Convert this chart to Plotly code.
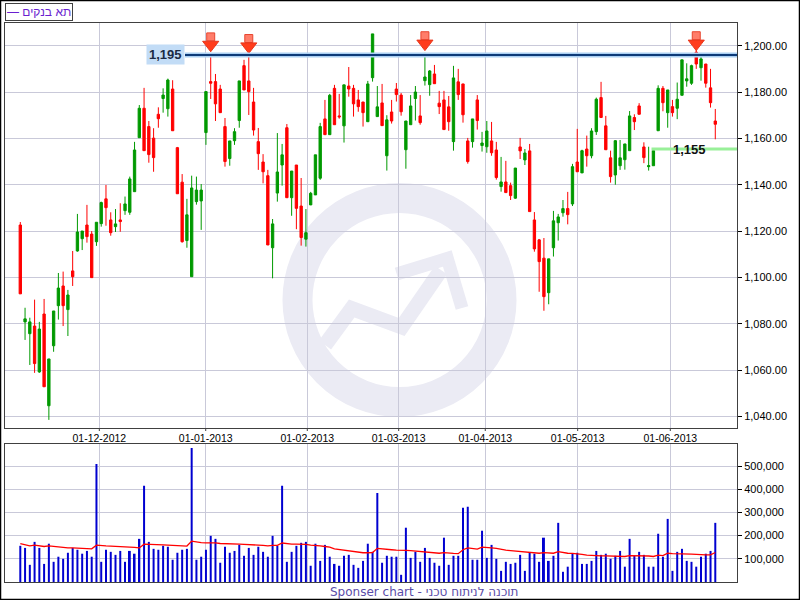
import plotly.graph_objects as go

# ---------------- data ----------------
opens = [1122.7, 1080.9, 1075.8, 1079.1, 1059.3, 1084.3, 1044.7, 1070.6, 1087.9, 1096.4,
         1086.2, 1102.9, 1111.5, 1116.8, 1122.7, 1118.8, 1115.5, 1123.3, 1134.0, 1124.9,
         1122.0, 1124.9, 1128.9, 1128.2, 1137.1, 1160.4, 1173.1, 1165.2, 1160.2, 1170.5,
         1177.3, 1172.9, 1181.4, 1156.1, 1141.2, 1116.0, 1100.4, 1132.8, 1133.1, 1162.6,
         1184.6, 1184.6, 1181.4, 1165.2, 1151.4, 1159.1, 1167.8, 1191.5, 1184.9, 1175.8,
         1158.7, 1149.9, 1144.0, 1112.9, 1136.5, 1148.6, 1164.7, 1134.5, 1148.6, 1130.9,
         1116.6, 1131.4, 1135.7, 1142.9, 1168.5, 1161.7, 1181.7, 1169.8, 1165.5, 1182.7,
         1181.7, 1176.7, 1175.8, 1167.3, 1186.3, 1169.5, 1175.4, 1152.6, 1171.5, 1181.4,
         1178.8, 1155.2, 1166.0, 1177.3, 1169.8, 1185.0, 1183.3, 1187.9, 1175.3, 1176.7,
         1173.7, 1158.7, 1184.5, 1183.6, 1159.0, 1158.7, 1176.7, 1157.0, 1156.5, 1159.0,
         1155.1, 1139.3, 1141.3, 1139.7, 1134.3, 1156.4, 1150.8, 1154.7, 1124.9, 1116.3,
         1108.4, 1093.5, 1112.9, 1123.7, 1128.0, 1129.8, 1131.8, 1149.9, 1145.2, 1155.5,
         1152.6, 1163.0, 1177.7, 1165.5, 1151.7, 1144.3, 1148.3, 1150.9, 1154.8, 1169.1,
         1174.1, 1156.4, 1147.9, 1148.3, 1163.4, 1181.7, 1171.2, 1173.8, 1173.1, 1178.7,
         1184.9, 1183.9, 1197.3, 1190.6, 1192.2, 1181.9, 1167.6]
highs = [1124.0, 1087.0, 1082.7, 1090.5, 1080.9, 1090.8, 1064.9, 1085.6, 1102.0, 1102.6,
         1094.7, 1111.5, 1127.5, 1120.1, 1131.4, 1120.1, 1123.9, 1132.8, 1140.0, 1128.2,
         1129.6, 1132.1, 1135.0, 1143.6, 1158.6, 1174.5, 1181.9, 1167.6, 1164.5, 1173.5,
         1181.7, 1185.9, 1185.2, 1156.4, 1144.7, 1134.0, 1144.0, 1143.6, 1140.4, 1180.3,
         1195.4, 1187.9, 1183.2, 1168.9, 1159.0, 1164.5, 1184.9, 1194.0, 1195.8, 1181.9,
         1164.6, 1153.3, 1146.5, 1125.3, 1162.4, 1157.7, 1166.3, 1146.0, 1148.6, 1143.0,
         1129.6, 1137.0, 1153.0, 1166.8, 1176.7, 1179.3, 1183.2, 1179.3, 1183.2, 1190.9,
         1183.2, 1181.0, 1175.8, 1184.9, 1205.2, 1182.7, 1183.6, 1170.1, 1176.7, 1184.0,
         1179.7, 1167.6, 1178.8, 1182.7, 1178.8, 1197.0, 1189.6, 1191.8, 1180.6, 1180.6,
         1178.4, 1191.4, 1190.1, 1183.6, 1160.3, 1168.5, 1178.8, 1162.9, 1167.6, 1167.2,
         1158.6, 1152.1, 1150.4, 1141.0, 1147.3, 1160.3, 1155.5, 1157.7, 1128.3, 1116.7,
         1117.1, 1108.1, 1128.8, 1127.5, 1133.5, 1137.0, 1149.1, 1164.2, 1155.2, 1161.3,
         1164.5, 1177.7, 1184.5, 1169.8, 1154.8, 1159.4, 1159.4, 1157.7, 1171.9, 1170.5,
         1175.3, 1158.4, 1156.5, 1154.8, 1183.0, 1182.7, 1181.0, 1176.7, 1184.2, 1194.0,
         1192.5, 1191.9, 1198.4, 1195.8, 1192.2, 1190.1, 1172.8]
lows = [1093.0, 1073.1, 1062.3, 1058.9, 1058.9, 1052.9, 1038.6, 1068.0, 1081.9, 1079.1,
        1074.8, 1096.4, 1111.2, 1111.9, 1115.1, 1100.0, 1113.7, 1122.0, 1122.4, 1118.1,
        1119.7, 1119.8, 1127.1, 1127.1, 1137.1, 1160.4, 1154.8, 1149.6, 1145.7, 1164.7,
        1171.2, 1169.5, 1163.4, 1136.2, 1115.1, 1112.9, 1100.4, 1131.5, 1120.6, 1157.3,
        1177.1, 1167.6, 1171.2, 1147.9, 1148.3, 1157.3, 1164.7, 1181.0, 1170.2, 1161.3,
        1146.5, 1140.7, 1114.1, 1099.7, 1132.8, 1139.7, 1134.5, 1126.7, 1120.9, 1113.8,
        1113.4, 1131.3, 1135.7, 1142.2, 1161.7, 1161.7, 1166.0, 1168.6, 1158.3, 1178.1,
        1169.5, 1171.6, 1165.2, 1167.3, 1184.6, 1169.5, 1165.6, 1146.2, 1166.5, 1176.0,
        1169.9, 1147.0, 1166.0, 1167.8, 1166.0, 1182.9, 1178.5, 1183.7, 1170.6, 1163.9,
        1163.4, 1154.8, 1176.7, 1166.9, 1149.2, 1156.1, 1163.9, 1154.4, 1153.9, 1152.6,
        1142.3, 1137.1, 1136.7, 1133.5, 1134.0, 1151.2, 1148.6, 1128.5, 1111.2, 1093.9,
        1085.7, 1088.5, 1109.1, 1116.0, 1126.3, 1123.0, 1130.9, 1145.7, 1145.2, 1147.9,
        1151.5, 1161.6, 1169.1, 1155.2, 1141.0, 1140.1, 1146.5, 1146.6, 1154.8, 1163.7,
        1170.5, 1149.4, 1146.2, 1148.3, 1163.4, 1171.8, 1164.7, 1169.5, 1168.4, 1178.7,
        1182.4, 1183.2, 1190.1, 1185.0, 1182.0, 1173.4, 1159.7]
closes = [1093.0, 1082.2, 1080.9, 1062.9, 1077.8, 1052.9, 1064.9, 1085.6, 1095.5, 1087.9,
          1092.5, 1100.4, 1119.7, 1120.1, 1117.7, 1100.0, 1123.9, 1132.4, 1130.2, 1119.4,
          1123.2, 1124.2, 1131.8, 1142.6, 1155.1, 1173.1, 1154.8, 1153.1, 1151.8, 1168.6,
          1178.8, 1185.3, 1163.4, 1136.2, 1115.5, 1127.1, 1138.7, 1137.8, 1137.8, 1180.3,
          1183.9, 1175.0, 1171.2, 1150.1, 1159.0, 1163.0, 1184.9, 1181.0, 1180.3, 1163.7,
          1153.5, 1145.7, 1114.1, 1123.2, 1145.6, 1153.0, 1134.5, 1146.0, 1129.9, 1117.3,
          1119.4, 1136.4, 1153.0, 1165.2, 1161.7, 1178.7, 1166.0, 1169.4, 1183.2, 1181.4,
          1175.0, 1173.8, 1171.2, 1183.6, 1205.2, 1173.7, 1165.6, 1168.1, 1167.6, 1179.0,
          1171.6, 1167.6, 1174.1, 1180.1, 1166.9, 1186.6, 1189.2, 1183.7, 1173.8, 1163.9,
          1167.3, 1186.2, 1179.0, 1170.3, 1150.1, 1168.5, 1167.8, 1158.1, 1163.3, 1153.9,
          1143.2, 1141.3, 1136.7, 1135.4, 1147.3, 1154.7, 1153.8, 1128.5, 1112.4, 1106.9,
          1091.8, 1108.1, 1124.5, 1126.2, 1129.8, 1127.2, 1147.9, 1145.7, 1154.8, 1152.6,
          1163.3, 1177.0, 1169.1, 1155.2, 1143.6, 1159.1, 1151.7, 1157.7, 1169.8, 1167.3,
          1170.5, 1151.8, 1148.3, 1154.8, 1181.7, 1175.5, 1181.0, 1171.2, 1177.0, 1194.0,
          1185.8, 1191.5, 1192.2, 1194.4, 1183.9, 1175.5, 1166.2]

# volume in thousands, and its average line (red)
volumes_k = [156, 147, 74, 173, 147, 78, 165, 87, 109, 100, 126, 147, 139, 122, 134, 109, 509, 87, 139, 130,
             117, 134, 87, 134, 122, 186, 415, 173, 143, 139, 156, 152, 96, 126, 139, 143, 578, 96, 109, 139,
             199, 186, 83, 152, 126, 134, 160, 113, 147, 117, 152, 130, 109, 199, 156, 415, 87, 130, 156, 169,
             173, 70, 165, 91, 160, 109, 78, 70, 113, 117, 74, 61, 91, 165, 130, 384, 83, 113, 109, 109,
             31, 234, 104, 130, 87, 147, 104, 83, 70, 191, 74, 113, 113, 320, 324, 96, 96, 221, 104, 160,
             100, 48, 87, 78, 83, 117, 48, 126, 122, 87, 191, 91, 113, 255, 44, 66, 122, 126, 78, 78,
             91, 134, 117, 122, 100, 113, 134, 66, 186, 113, 130, 117, 66, 66, 208, 109, 272, 48, 130, 143,
             91, 87, 66, 109, 122, 134, 255]
vol_avg_k = [165, 160, 156, 159, 155, 153, 156, 153, 150, 149, 147, 147, 146, 145, 145, 143, 159, 156, 156, 155,
             153, 153, 152, 150, 149, 147, 163, 163, 162, 160, 160, 159, 158, 156, 156, 155, 176, 172, 170, 169,
             170, 169, 166, 166, 165, 163, 163, 162, 162, 160, 159, 158, 156, 158, 158, 168, 165, 163, 163, 163,
             162, 159, 159, 156, 153, 150, 143, 140, 137, 134, 132, 129, 126, 126, 127, 145, 142, 140, 139, 137,
             135, 136, 135, 133, 132, 130, 129, 127, 124, 127, 124, 123, 122, 139, 147, 145, 142, 150, 147, 147,
             145, 140, 137, 135, 133, 132, 129, 127, 126, 124, 127, 126, 124, 131, 127, 124, 123, 122, 119, 116,
             114, 114, 113, 113, 112, 112, 112, 110, 114, 114, 114, 113, 112, 110, 116, 114, 124, 122, 122, 123,
             122, 120, 119, 117, 117, 117, 127]

month_labels = ["01-12-2012", "01-01-2013", "01-02-2013", "01-03-2013",
                "01-04-2013", "01-05-2013", "01-06-2013"]
month_pos = [16.6, 38.95, 60.29, 79.49, 97.68, 117.09, 136.55]

signal_idx = [40, 48, 85, 142]
signal_tip = [1197.5, 1196.8, 1198.0, 1198.0]

resistance_level = 1196.1
resistance_label = "1,195"
resistance_start = 34.6
support_level = 1155.5
support_label = "1,155"
support_start = 132.6
support_label_x = 140.5

legend_text = "— תא בנקים"
footer_text = "Sponser chart - תוכנה לניתוח טכני"

# ---------------- geometry / helpers ----------------
W, H = 800, 600
ML, MR, MT, MB = 5, 63, 23, 18
PW, PH = W - ML - MR, H - MT - MB
X_RANGE = [-3.214, 150.56]


def px(xp):
    return (xp - ML) / PW


def py(yp):
    return (H - MB - yp) / PH


idx = list(range(len(opens)))
volumes = [v * 1000 for v in volumes_k]
vol_avg = [v * 1000 for v in vol_avg_k]
head_y = [t + 3.0 for t in signal_tip]
stem_y = [t + 6.4 for t in signal_tip]

FONT = "Liberation Sans, Arial, sans-serif"
GRID = "#c9c9d9"
FRAME = "#404040"
WM = "#ebebf4"

fig = go.Figure()

fig.add_trace(go.Candlestick(
    x=idx, open=opens, high=highs, low=lows, close=closes,
    increasing=dict(line=dict(color="#009900", width=1), fillcolor="#009900"),
    decreasing=dict(line=dict(color="#ff0000", width=1), fillcolor="#ff0000"),
    whiskerwidth=0, showlegend=False, hoverinfo="skip",
    xaxis="x", yaxis="y"))

fig.add_trace(go.Scatter(
    x=signal_idx, y=stem_y, mode="markers", showlegend=False, hoverinfo="skip",
    marker=dict(symbol="square", size=8, color="#ff7d6a",
                line=dict(color="#e8452f", width=1)),
    xaxis="x", yaxis="y"))
fig.add_trace(go.Scatter(
    x=signal_idx, y=head_y, mode="markers", showlegend=False, hoverinfo="skip",
    marker=dict(symbol="triangle-down", size=14, color="#ff3c1c",
                line=dict(color="#e8351a", width=1)),
    xaxis="x", yaxis="y"))

fig.add_trace(go.Bar(
    x=idx, y=volumes, width=0.42, marker=dict(color="#0000d0", line=dict(width=0)),
    showlegend=False, hoverinfo="skip", xaxis="x2", yaxis="y2"))
fig.add_trace(go.Scatter(
    x=idx, y=vol_avg, mode="lines", line=dict(color="#ff0000", width=1.3),
    showlegend=False, hoverinfo="skip", xaxis="x2", yaxis="y2"))

shapes = []
# watermark (ring + arrow), drawn under the grid
cx, cy, r = 399.5, 300.0, 102.0
shapes.append(dict(type="circle", xref="paper", yref="paper", layer="below",
                   x0=px(cx - r), x1=px(cx + r), y0=py(cy + r), y1=py(cy - r),
                   line=dict(color=WM, width=30), fillcolor="rgba(0,0,0,0)"))


def path(points):
    return "M " + " L ".join(f"{px(a):.5f},{py(b):.5f}" for a, b in points)


shapes.append(dict(type="path", xref="paper", yref="paper", layer="below",
                   path=path([(325, 345), (351.7, 308.5), (401.7, 327), (441, 270)]),
                   line=dict(color=WM, width=15)))
shapes.append(dict(type="path", xref="paper", yref="paper", layer="below",
                   path=path([(396.7, 274), (447.3, 258.5), (462, 308)]),
                   line=dict(color=WM, width=13)))

# resistance / support lines
shapes.append(dict(type="line", xref="x", yref="y", x0=resistance_start, x1=X_RANGE[1],
                   y0=resistance_level, y1=resistance_level,
                   line=dict(color="#aacff2", width=5)))
shapes.append(dict(type="line", xref="x", yref="y", x0=resistance_start, x1=X_RANGE[1],
                   y0=resistance_level, y1=resistance_level,
                   line=dict(color="#0d3a78", width=2)))
shapes.append(dict(type="line", xref="x", yref="y", x0=support_start, x1=X_RANGE[1],
                   y0=support_level, y1=support_level,
                   line=dict(color="#99f099", width=3)))
# small tick marks under the main panel at the month grid lines
for m in month_pos:
    shapes.append(dict(type="line", xref="x", yref="paper", x0=m, x1=m,
                       y0=py(428), y1=py(431), line=dict(color=FRAME, width=1)))
# outer frame of the picture
shapes.append(dict(type="rect", xref="paper", yref="paper",
                   x0=px(0.5), x1=px(799.5), y0=py(599.5), y1=py(0.5),
                   line=dict(color="#000000", width=1.5)))

annotations = [
    dict(xref="paper", yref="paper", x=px(5), y=py(11.5), xanchor="left", yanchor="middle",
         text=legend_text, showarrow=False, font=dict(family=FONT, size=12, color="#6a1fd0"),
         bordercolor="#404040", borderwidth=1, borderpad=1, bgcolor="#ffffff"),
    dict(xref="x", yref="y", x=resistance_start, y=resistance_level, xanchor="right",
         yanchor="middle", text=f"<b>{resistance_label}</b>", showarrow=False,
         font=dict(family=FONT, size=13, color="#1a2a44"), bgcolor="#c2dcf6", borderpad=2),
    dict(xref="x", yref="y", x=support_label_x, y=support_level, xanchor="center",
         yanchor="middle", text=f"<b>{support_label}</b>", showarrow=False,
         font=dict(family=FONT, size=13, color="#111111")),
    dict(xref="paper", yref="paper", x=px(424), y=py(592), xanchor="center", yanchor="middle",
         text=footer_text, showarrow=False,
         font=dict(family="DejaVu Sans, Verdana, sans-serif", size=12, color="#5a4ca8")),
]

axis_common = dict(showline=True, mirror=True, linecolor=FRAME, linewidth=1,
                   zeroline=False, gridcolor=GRID, gridwidth=1)

fig.update_layout(
    width=W, height=H,
    margin=dict(l=ML, r=MR, t=MT, b=MB, pad=0),
    paper_bgcolor="#ffffff", plot_bgcolor="#ffffff",
    showlegend=False, hovermode=False,
    font=dict(family=FONT, size=11, color="#000000"),
    shapes=shapes, annotations=annotations,
    xaxis=dict(domain=[0, 1], anchor="y", range=X_RANGE, tickmode="array",
               tickvals=month_pos, ticktext=month_labels, ticks="",
               tickfont=dict(size=10.5), rangeslider=dict(visible=False),
               showgrid=True, **axis_common),
    yaxis=dict(domain=[0.2755, 1], anchor="x", side="right", range=[1035.1, 1209.9],
               tickmode="linear", tick0=1040, dtick=20, tickformat=",.2f",
               ticks="outside", ticklen=4, tickcolor="#000000", showgrid=True, **axis_common),
    xaxis2=dict(domain=[0, 1], anchor="y2", range=X_RANGE, tickmode="array",
                tickvals=month_pos, showticklabels=False, ticks="", showgrid=True,
                **axis_common),
    yaxis2=dict(domain=[0, 0.2463], anchor="x2", side="right", range=[0, 593500],
                tickmode="array", tickvals=[100000, 200000, 300000, 400000, 500000],
                tickformat=",d", ticks="outside", ticklen=4, tickcolor="#000000",
                showgrid=True, **axis_common),
)

# the page's default 8px body margin would shift the figure; remove it
fig.write_html("out.html", config={"displayModeBar": False},
               post_script="document.body.style.margin='0px';")
